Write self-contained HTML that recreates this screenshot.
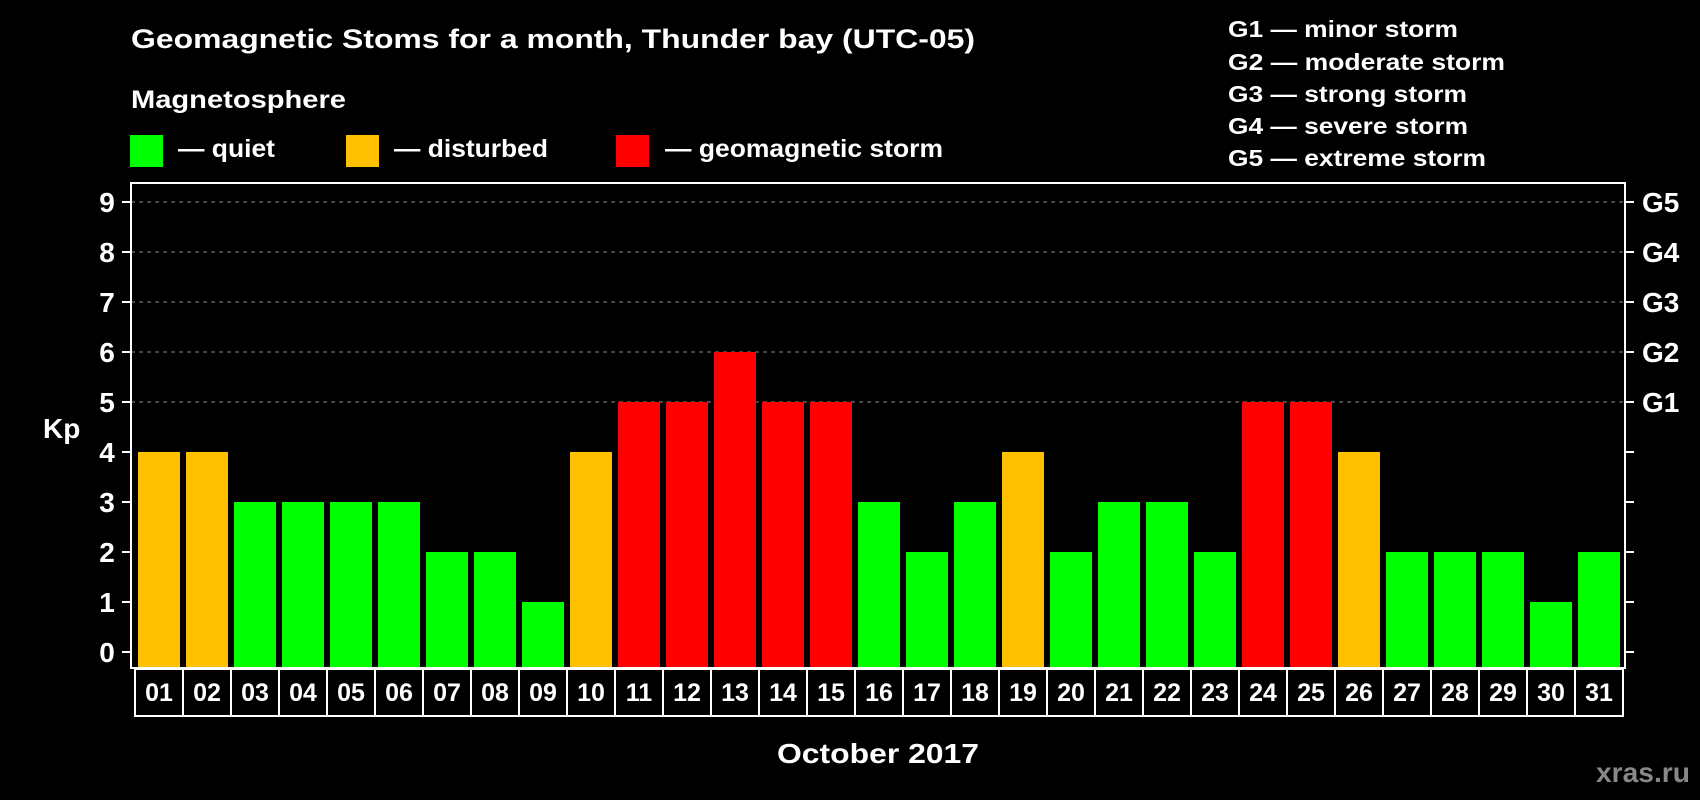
<!DOCTYPE html>
<html><head><meta charset="utf-8"><style>
html,body{margin:0;padding:0;background:#000;}
svg{display:block;font-family:"Liberation Sans",Arial,sans-serif;font-weight:bold;}
</style></head><body>
<svg id="chart" width="1700" height="800" viewBox="0 0 1700 800" xmlns="http://www.w3.org/2000/svg">
<rect width="1700" height="800" fill="#000"/>
<text x="131" y="48" fill="#fff" font-size="27" textLength="844" lengthAdjust="spacingAndGlyphs">Geomagnetic Stoms for a month, Thunder bay (UTC-05)</text>
<text x="131" y="108" fill="#fff" font-size="25" textLength="215" lengthAdjust="spacingAndGlyphs">Magnetosphere</text>
<g><rect x="130" y="135" width="33" height="32" fill="#00ff00"/><text x="178" y="157" fill="#fff" font-size="25" textLength="97" lengthAdjust="spacingAndGlyphs">— quiet</text></g>
<g><rect x="346" y="135" width="33" height="32" fill="#ffc000"/><text x="394" y="157" fill="#fff" font-size="25" textLength="154" lengthAdjust="spacingAndGlyphs">— disturbed</text></g>
<g><rect x="616" y="135" width="33" height="32" fill="#ff0000"/><text x="665" y="157" fill="#fff" font-size="25" textLength="278" lengthAdjust="spacingAndGlyphs">— geomagnetic storm</text></g>
<g fill="#fff" font-size="23">
<text x="1228" y="37" textLength="230" lengthAdjust="spacingAndGlyphs">G1 — minor storm</text>
<text x="1228" y="70" textLength="277" lengthAdjust="spacingAndGlyphs">G2 — moderate storm</text>
<text x="1228" y="102" textLength="239" lengthAdjust="spacingAndGlyphs">G3 — strong storm</text>
<text x="1228" y="134" textLength="240" lengthAdjust="spacingAndGlyphs">G4 — severe storm</text>
<text x="1228" y="166" textLength="258" lengthAdjust="spacingAndGlyphs">G5 — extreme storm</text>
</g>
<text x="43" y="438" fill="#fff" font-size="28">Kp</text>
<text x="878" y="763" fill="#fff" font-size="28" text-anchor="middle" textLength="202" lengthAdjust="spacingAndGlyphs">October 2017</text>
<text x="1690" y="782" fill="#888" font-size="28" text-anchor="end" textLength="94" lengthAdjust="spacingAndGlyphs">xras.ru</text>
<g id="grid"></g><g id="bars"></g><g id="axes"></g>
</svg>
<script>
const days = ["01","02","03","04","05","06","07","08","09","10","11","12","13","14","15","16","17","18","19","20","21","22","23","24","25","26","27","28","29","30","31"];
const kpValues = [4,4,3,3,3,3,2,2,1,4,5,5,6,5,5,3,2,3,4,2,3,3,2,5,5,4,2,2,2,1,2];
const yTicks = [0,1,2,3,4,5,6,7,8,9];
const gLabels = ["G1","G2","G3","G4","G5"];
const gLevels = [5,6,7,8,9];

const NS="http://www.w3.org/2000/svg";
const L=131,R=1625,T=183,B=668;
const y0=652, unit=(652-202)/9;
const yS=v=>y0-v*unit;
const pitch=(R-L-6)/days.length; // 48
const xS=i=>L+7+i*pitch;
const bw=pitch-6;
function mk(tag,attrs,parent){const e=document.createElementNS(NS,tag);for(const k in attrs)e.setAttribute(k,attrs[k]);parent.appendChild(e);return e;}
const grid=document.getElementById('grid'),bars=document.getElementById('bars'),axes=document.getElementById('axes');
gLevels.forEach((lv,i)=>{
  const ln=mk('line',{x1:L,x2:R,y1:yS(lv),y2:yS(lv),stroke:'#888','stroke-width':1,'stroke-dasharray':'4,4'},grid);
  
  
  const t=mk('text',{x:1642,y:yS(lv)+10,fill:'#fff','font-size':28},axes);
  t.textContent=gLabels[i];
  
  
});
kpValues.forEach((v,i)=>{
  const col=v>=5?'#ff0000':(v>=4?'#ffc000':'#00ff00');
  const r=mk('rect',{x:xS(i),y:yS(v),width:bw,height:B-yS(v),fill:col},bars);
  
  
  const bx=mk('rect',{x:xS(i)-3,y:669,width:pitch,height:47,fill:'none',stroke:'#fff','stroke-width':2},axes);
  
  
  const t=mk('text',{x:xS(i)+bw/2,y:701,fill:'#fff','font-size':25,'text-anchor':'middle'},axes);
  t.textContent=days[i];
  
  
});
const fr=mk('rect',{x:L,y:T,width:R-L,height:B-T,fill:'none',stroke:'#fff','stroke-width':2},axes);


yTicks.forEach(v=>{
  const a=mk('line',{x1:122,x2:L,y1:yS(v),y2:yS(v),stroke:'#fff','stroke-width':2},axes);
  
  
  const b=mk('line',{x1:R,x2:1634,y1:yS(v),y2:yS(v),stroke:'#fff','stroke-width':2},axes);
  
  
  const t=mk('text',{x:107,y:yS(v)+10,fill:'#fff','font-size':28,'text-anchor':'middle'},axes);
  t.textContent=v;
  
  
});
</script>
</body></html>
